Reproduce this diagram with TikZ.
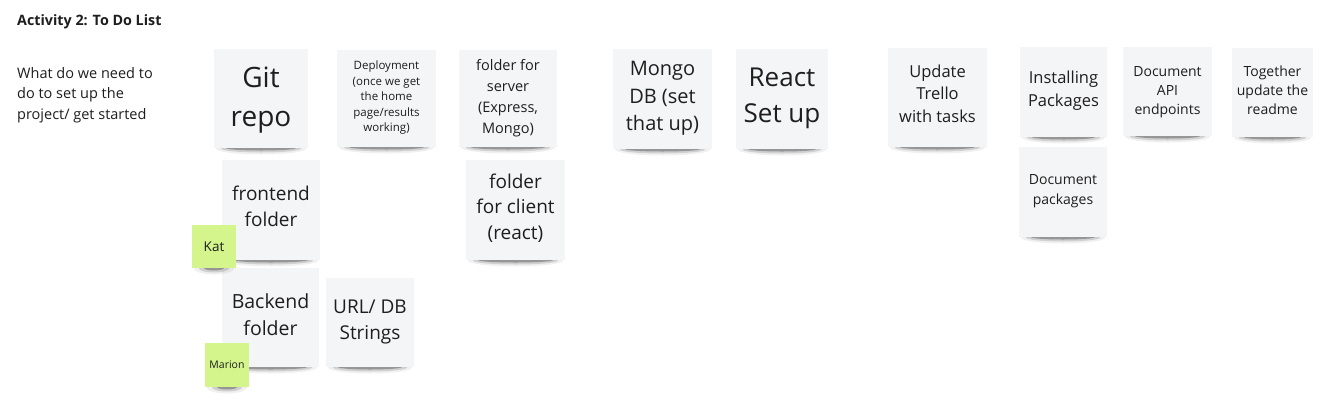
\documentclass[tikz,border=0pt]{standalone}
\usepackage{fontspec}
\setmainfont{Open Sans}
\definecolor{notegray}{HTML}{F4F5F7}
\definecolor{notegreen}{HTML}{D4F48C}
\definecolor{ink}{HTML}{1E1E1E}
\tikzset{
  note/.style={rectangle, inner sep=0pt},
  notetext/.style={inner sep=0pt, align=center, text=ink},
  plain/.style={inner sep=0pt, align=left, text=ink, anchor=north west},
}
% [dy] name x y w h colour {size}{skip} text
\newcommand\stickynote[9][0]{%
  \fill[black,opacity=.06] ({#3+#5/2},{#4+#6+0.5}) ellipse [x radius={#5/2-2}, y radius=6];
  \fill[black,opacity=.13] ({#3+#5/2},{#4+#6+0.5}) ellipse [x radius={#5/2-7}, y radius=4];
  \fill[black,opacity=.28] ({#3+#5/2},{#4+#6}) ellipse [x radius={#5/2-12}, y radius=2.5];
  \node[note, fill=#7, minimum width=#5pt, minimum height=#6pt] (#2) at ({#3+#5/2},{#4+#6/2}) {};
  \node[notetext, font=\fontsize#8\selectfont, yshift=-#1pt] (#2-t) at (#2.center) {#9};
}
\begin{document}
\begin{tikzpicture}[x=1pt,y=-1pt]
\fill[white] (0,0) rectangle (1339,400);
\useasboundingbox (0,0) rectangle (1339,400);
\node[plain, font=\bfseries\fontsize{14.3}{17}\selectfont] (title) at (17,14.5) {Activity 2: To Do List};
\node[plain, font=\fontsize{14.5}{20.5}\selectfont] (desc) at (17,67) {What do we need to\\do to set up the\\project/ get started};

\stickynote[2]{git}{214}{49}{94}{99}{notegray}{{28}{39}}{Git\\repo}
\stickynote[-0.5]{deploy}{337}{50}{99}{97}{notegray}{{11.5}{15.5}}{Deployment\\(once we get\\the home\\page/results\\working)}
\stickynote[0]{server}{459}{50}{98}{97}{notegray}{{14.5}{21}}{folder for\\server\\(Express,\\Mongo)}
\stickynote[-0.5]{mongo}{613}{49}{99}{100}{notegray}{{20}{27.5}}{Mongo\\DB (set\\that up)}
\stickynote[-1]{react}{736}{49}{92}{100}{notegray}{{26}{36}}{React\\Set up}
\stickynote[-4]{trello}{888}{48}{99}{99}{notegray}{{16.5}{22.5}}{Update\\Trello\\with tasks}
\stickynote[-1]{install}{1020}{47}{87}{90}{notegray}{{16.5}{23}}{Installing\\Packages}
\stickynote[0.5]{api}{1123}{47}{89}{89}{notegray}{{14}{19}}{Document\\API\\endpoints}
\stickynote[-2]{readme}{1232}{48}{81}{89}{notegray}{{14}{19}}{Together\\update the\\readme}
\stickynote[-1]{docpk}{1019}{147}{88}{90}{notegray}{{14}{20}}{Document\\packages}
\stickynote[-4]{front}{222}{160}{98}{100}{notegray}{{19}{26}}{frontend\\folder}
\stickynote[-2]{client}{466}{160}{99}{100}{notegray}{{19}{25.5}}{folder\\for client\\(react)}
\stickynote[-3]{back}{222}{268}{97}{99}{notegray}{{19.5}{26.5}}{Backend\\folder}
\stickynote[-1]{url}{326}{278}{88}{89}{notegray}{{19}{26}}{URL/ DB\\Strings}
\stickynote[0]{kat}{192}{225}{44}{43}{notegreen}{{13.5}{16}}{Kat}
\stickynote[0]{marion}{205}{343}{44}{44}{notegreen}{{10.5}{13}}{Marion}
\end{tikzpicture}
\end{document}
